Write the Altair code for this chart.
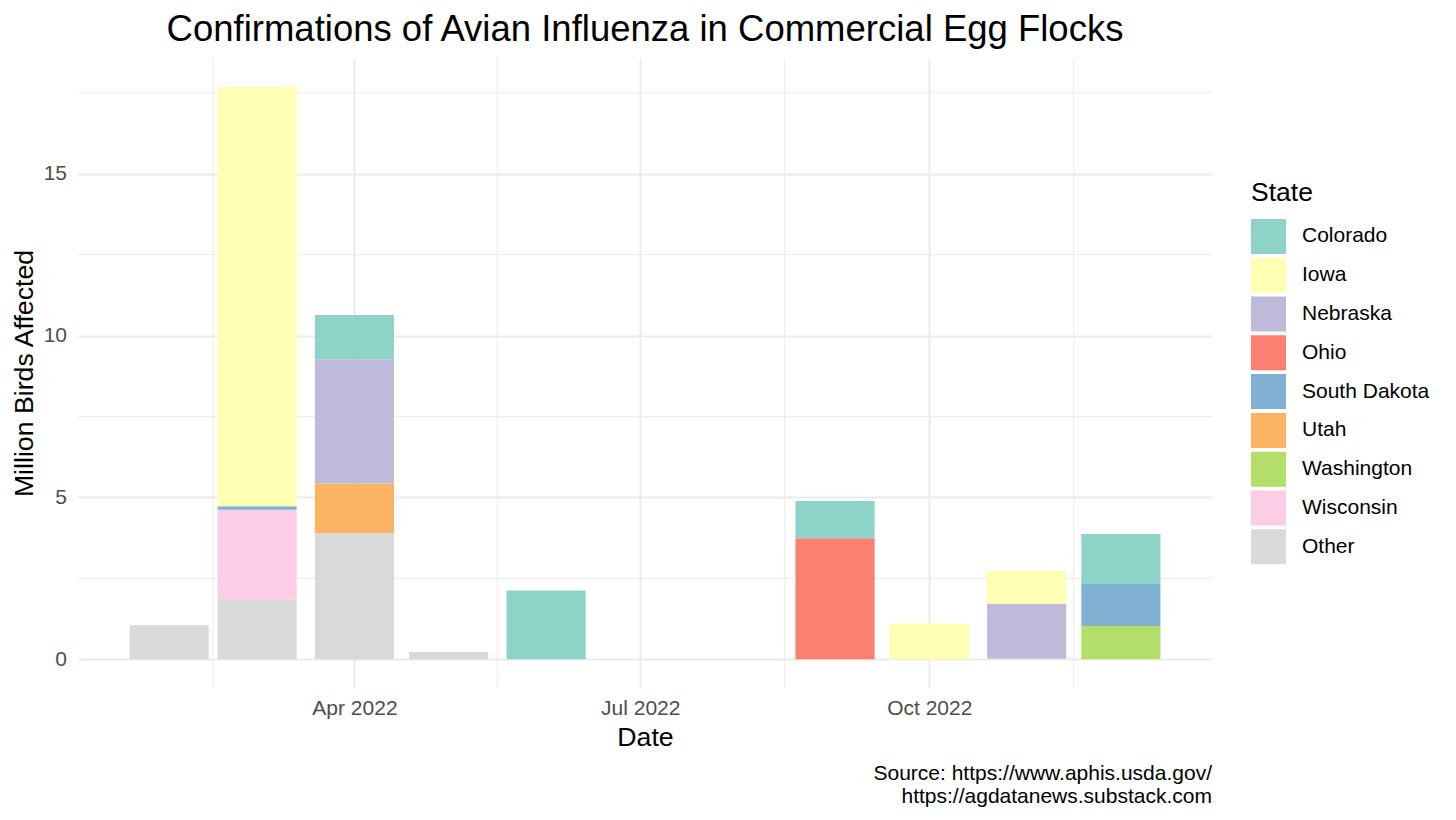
import json
import altair as alt
import pandas as pd

# ---------------- data ----------------
MONTH = [
    "2022-02-01",
    "2022-03-01", "2022-03-01", "2022-03-01", "2022-03-01",
    "2022-04-01", "2022-04-01", "2022-04-01", "2022-04-01",
    "2022-05-01",
    "2022-06-01",
    "2022-09-01", "2022-09-01",
    "2022-10-01",
    "2022-11-01", "2022-11-01", "2022-11-01",
    "2022-12-01", "2022-12-01", "2022-12-01",
]
STATE = [
    "Other",
    "Other", "Wisconsin", "South Dakota", "Iowa",
    "Other", "Utah", "Nebraska", "Colorado",
    "Other",
    "Colorado",
    "Ohio", "Colorado",
    "Iowa",
    "Other", "Nebraska", "Iowa",
    "Washington", "South Dakota", "Colorado",
]
MILLIONS = [
    1.05,
    1.86, 2.76, 0.11, 12.96,
    3.90, 1.53, 3.84, 1.37,
    0.23,
    2.13,
    3.74, 1.15,
    1.10,
    0.03, 1.68, 1.02,
    1.03, 1.30, 1.54,
]
STATE_ORDER = ["Colorado", "Iowa", "Nebraska", "Ohio", "South Dakota",
               "Utah", "Washington", "Wisconsin", "Other"]
SET3 = ["#8DD3C7", "#FFFFB3", "#BEBADA", "#FB8072", "#80B1D3",
        "#FDB462", "#B3DE69", "#FCCDE5", "#D9D9D9"]
X_BREAKS = ["2022-01-01", "2022-04-01", "2022-07-01", "2022-10-01", "2023-01-01"]
Y_BREAKS = [0, 5, 10, 15, 20]
TITLE = "Confirmations of Avian Influenza in Commercial Egg Flocks"
CAPTION = ["Source: https://www.aphis.usda.gov/", "https://agdatanews.substack.com"]

# ---------------- helpers ----------------
DAY = 86400000


def ms(s):
    return int(pd.Timestamp(s, tz="UTC").value // 10**6)


df = pd.DataFrame({"month_ms": [ms(m) for m in MONTH],
                   "state": STATE, "value": MILLIONS})

half = 12.6 * DAY  # ggplot default bar width: 0.9 * 28 days
lo = df.month_ms.min() - half
hi = df.month_ms.max() + half
xpad = 0.05 * (hi - lo)
x_dom = [lo - xpad, hi + xpad]
ymax = df.groupby("month_ms")["value"].sum().max()
y_dom = [-0.05 * ymax, 1.05 * ymax]

xb = [ms(b) for b in X_BREAKS]
x_major = [v for v in xb if x_dom[0] <= v <= x_dom[1]]
x_minor = [(a + b) / 2 for a, b in zip(xb[:-1], xb[1:])]
x_minor = [v for v in x_minor if x_dom[0] <= v <= x_dom[1]]
y_major = [v for v in Y_BREAKS if y_dom[0] <= v <= y_dom[1]]
y_minor = [(a + b) / 2 for a, b in zip(Y_BREAKS[:-1], Y_BREAKS[1:])]
y_minor = [v for v in y_minor if y_dom[0] <= v <= y_dom[1]]

W, H = 1134, 630
FONT = "Liberation Sans, Arial, sans-serif"
GRID = "#EBEBEB"

x_scale = alt.Scale(type="utc", domain=x_dom, nice=False)
y_scale = alt.Scale(domain=y_dom, nice=False, zero=False)
color_scale = alt.Scale(domain=STATE_ORDER, range=SET3)

x_axis = alt.Axis(values=x_major,
                  labelExpr="utcFormat(datum.value, '%b %Y')",
                  grid=True, gridColor=GRID, gridWidth=2,
                  ticks=False, tickSize=0, domain=False,
                  labelFont=FONT, labelFontSize=21, labelColor="#4D4D4D",
                  labelPadding=9, labelFlush=False, labelOverlap=False,
                  titleFont=FONT, titleFontSize=26.7, titleFontWeight="normal",
                  titleColor="black", titleX=W / 2, titleY=57,
                  titleBaseline="alphabetic", titleAlign="center")
y_axis = alt.Axis(values=y_major, grid=True, gridColor=GRID, gridWidth=2,
                  ticks=False, tickSize=0, domain=False,
                  labelFont=FONT, labelFontSize=21, labelColor="#4D4D4D",
                  labelPadding=11.5, labelFlush=False, labelOverlap=False,
                  titleFont=FONT, titleFontSize=26.7, titleFontWeight="normal",
                  titleColor="black", titleX=-46, titleY=H / 2,
                  titleAngle=270, titleBaseline="alphabetic",
                  titleAlign="center")

vrules = alt.Chart(pd.DataFrame({"t": x_minor})).mark_rule(
    color=GRID, strokeWidth=1
).encode(x=alt.X("t:T", scale=x_scale, axis=x_axis, title="Date"))

hrules = alt.Chart(pd.DataFrame({"v": y_minor})).mark_rule(
    color=GRID, strokeWidth=1
).encode(y=alt.Y("v:Q", scale=y_scale, axis=y_axis, title="Million Birds Affected"))

bars = alt.Chart(df).transform_calculate(
    ord=f"indexof({json.dumps(STATE_ORDER)}, datum.state)",
    start=f"datum.month_ms - {half}",
    end=f"datum.month_ms + {half}",
).transform_stack(
    stack="value", groupby=["month_ms"], as_=["y0", "y1"],
    sort=[alt.SortField("ord", order="descending")],
).mark_bar().encode(
    x=alt.X("start:T", scale=x_scale, title="Date", axis=x_axis),
    x2="end:T",
    y=alt.Y("y0:Q", scale=y_scale, title="Million Birds Affected", axis=y_axis),
    y2="y1:Q",
    color=alt.Color("state:N", scale=color_scale, title="State",
                    legend=alt.Legend(orient="none", legendX=1173, legendY=122,
                                      direction="vertical", symbolType="square",
                                      symbolSize=1225, symbolStrokeWidth=0,
                                      symbolOpacity=1, labelFont=FONT,
                                      labelFontSize=21, labelColor="black",
                                      labelOffset=16, titleFont=FONT,
                                      titleFontSize=26.5, titleFontWeight="normal",
                                      titleColor="black", titlePadding=12.4,
                                      rowPadding=3.8, padding=0)),
)

title = alt.Chart(pd.DataFrame({"k": [0]})).mark_text(
    align="center", baseline="alphabetic", font=FONT, fontSize=36.5,
    color="black", text=TITLE,
).encode(x=alt.value(W / 2), y=alt.value(-17))

caption = alt.Chart(pd.DataFrame({"k": [0]})).mark_text(
    align="right", baseline="alphabetic", font=FONT, fontSize=21,
    color="black", lineHeight=23, text=CAPTION,
).encode(x=alt.value(W), y=alt.value(722))

chart = alt.layer(vrules, hrules, bars, title, caption).properties(
    width=W, height=H,
    autosize=alt.AutoSizeParams(type="none"),
    padding={"left": 70, "top": 50, "right": 230, "bottom": 124},
).configure_view(strokeWidth=0)

chart.save("out.html", embed_options={"renderer": "svg", "actions": False})
